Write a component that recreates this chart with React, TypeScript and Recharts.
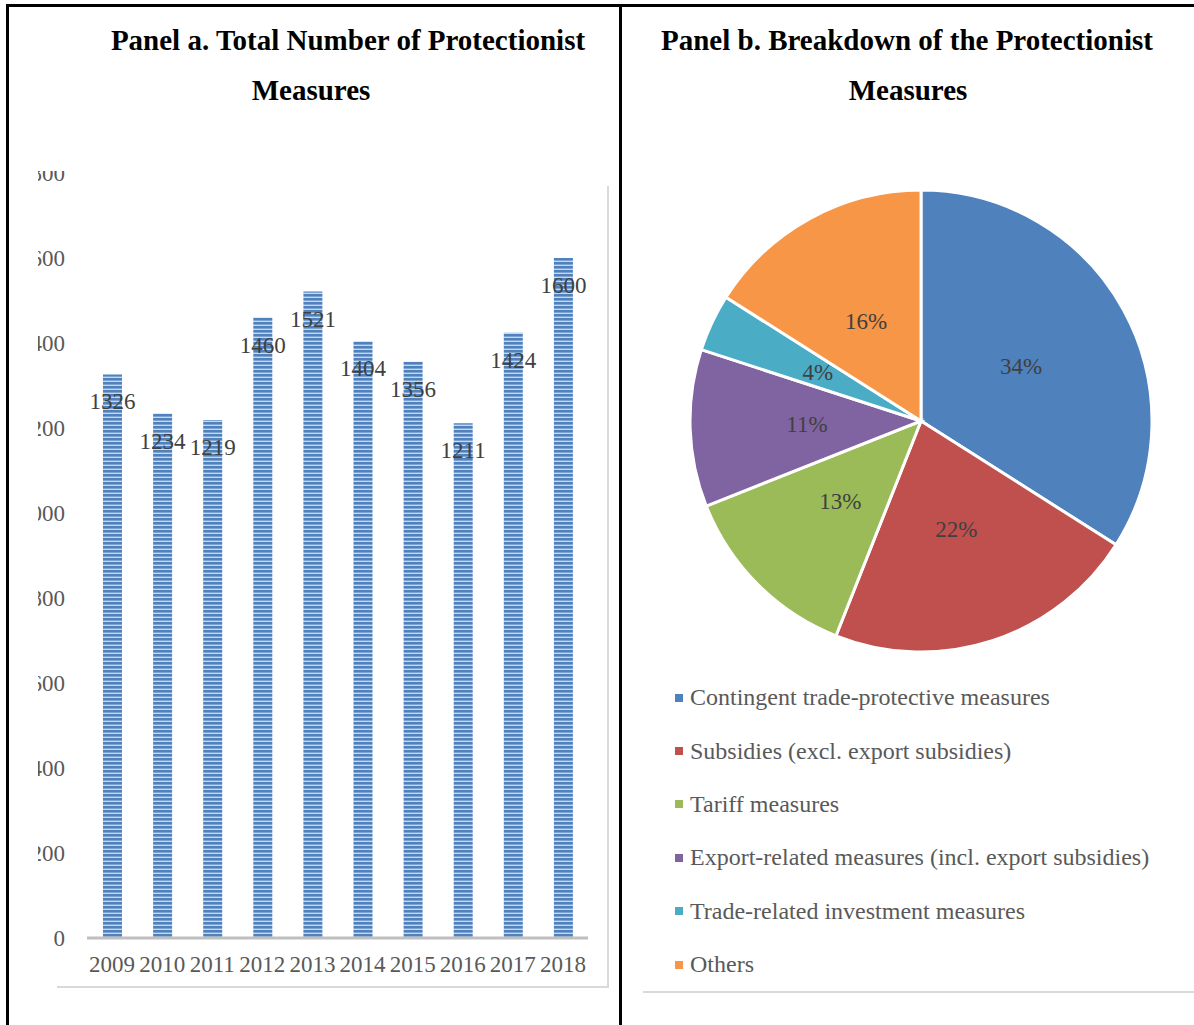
import React from 'react';
import { BarChart, Bar, XAxis, YAxis, LabelList, PieChart, Pie, Cell, Legend } from 'recharts';

const FONT = '"Liberation Serif", "Times New Roman", Times, serif';

// Panel a data
const years = ['2009', '2010', '2011', '2012', '2013', '2014', '2015', '2016', '2017', '2018'];
const totals = [1326, 1234, 1219, 1460, 1521, 1404, 1356, 1211, 1424, 1600];
const yTicks = [0, 200, 400, 600, 800, 1000, 1200, 1400, 1600, 1800];

// Panel b data
const categories = [
  'Contingent trade-protective measures',
  'Subsidies (excl. export subsidies)',
  'Tariff measures',
  'Export-related measures (incl. export subsidies)',
  'Trade-related investment measures',
  'Others',
];
const shares = [34, 22, 13, 11, 4, 16];
const sliceColors = ['#4F81BD', '#C0504D', '#9BBB59', '#8064A2', '#4BACC6', '#F79646'];

const barData = years.map((y, i) => ({ year: y, total: totals[i] }));
const pieData = categories.map((c, i) => ({ name: c, value: shares[i] }));

const RAD = Math.PI / 180;

const BarValueLabel = (props: any) => {
  const { x, y, width, value } = props;
  return (
    <text
      x={Number(x) + Number(width) / 2}
      y={Number(y) + 35}
      textAnchor="middle"
      fontFamily={FONT}
      fontSize={23}
      fill="#404040"
    >
      {value}
    </text>
  );
};

const PieLabel = (props: any) => {
  const { cx, cy, midAngle, outerRadius, value } = props;
  const r = outerRadius * 0.494;
  const x = cx + r * Math.cos(-midAngle * RAD);
  const y = cy + r * Math.sin(-midAngle * RAD);
  return (
    <text
      x={x}
      y={y}
      textAnchor="middle"
      dominantBaseline="central"
      fontFamily={FONT}
      fontSize={23}
      fill="#404040"
    >
      {`${value}%`}
    </text>
  );
};

const LegendContent = () => (
  <div style={{ fontFamily: FONT }}>
    {categories.map((c, i) => (
      <div key={c} style={{ height: 53.4, display: 'flex', alignItems: 'center' }}>
        <span style={{ display: 'inline-block', width: 8, height: 8, background: sliceColors[i], marginRight: 7 }} />
        <span style={{ fontSize: 24, color: '#595959', whiteSpace: 'nowrap' }}>{c}</span>
      </div>
    ))}
  </div>
);

const abs = (s: React.CSSProperties): React.CSSProperties => ({ position: 'absolute', ...s });

const Title = ({ text, cx, cy }: { text: string; cx: number; cy: number }) => (
  <div
    style={abs({
      left: cx - 300,
      top: cy - 17,
      width: 600,
      height: 34,
      lineHeight: '34px',
      textAlign: 'center',
      fontFamily: FONT,
      fontWeight: 'bold',
      fontSize: 29,
      color: '#000',
      whiteSpace: 'nowrap',
    })}
  >
    {text}
  </div>
);

export default function App() {
  return (
    <div style={abs({ left: 0, top: 0, width: 1194, height: 1025, overflow: 'hidden', background: '#fff' })}>
      {/* frame lines */}
      <div style={abs({ left: 6, top: 4, width: 1188, height: 3, background: '#000' })} />
      <div style={abs({ left: 6, top: 4, width: 3, height: 1021, background: '#000' })} />
      <div style={abs({ left: 619, top: 4, width: 3, height: 1021, background: '#000' })} />

      {/* titles */}
      <Title text="Panel a. Total Number of Protectionist" cx={348} cy={40} />
      <Title text="Measures" cx={311} cy={90} />
      <Title text="Panel b. Breakdown of the Protectionist" cx={907} cy={40} />
      <Title text="Measures" cx={908} cy={90} />

      {/* panel a chart area border */}
      <div style={abs({ left: 607, top: 186, width: 2, height: 802, background: '#D9D9D9' })} />
      <div style={abs({ left: 57, top: 986, width: 552, height: 2, background: '#D9D9D9' })} />

      {/* panel a chart (clipped on the left like the source) */}
      <div style={abs({ left: 38, top: 171, width: 581, height: 854, overflow: 'hidden' })}>
        <div style={abs({ left: -38, top: -21 })}>
          <BarChart
            width={620}
            height={870}
            data={barData}
            margin={{ top: 23, right: 32, bottom: 32, left: 57 }}
          >
            <defs>
              <pattern id="stripes" width="4" height="4" patternUnits="userSpaceOnUse">
                <rect x="0" y="0" width="4" height="4" fill="#C9D8EE" />
                <rect x="0" y="0" width="4" height="2.6" fill="#4F81BD" />
              </pattern>
            </defs>
            <XAxis
              dataKey="year"
              axisLine={{ stroke: '#BFBFBF', strokeWidth: 3 }}
              tickLine={false}
              tickMargin={12}
              height={50}
              interval={0}
              tick={{ fontSize: 23, fill: '#595959', fontFamily: FONT }}
            />
            <YAxis
              domain={[0, 1800]}
              ticks={yTicks}
              axisLine={false}
              tickLine={false}
              tickMargin={16}
              width={30}
              interval={0}
              tick={{ fontSize: 23, fill: '#595959', fontFamily: FONT }}
            />
            <Bar dataKey="total" fill="url(#stripes)" barSize={19} isAnimationActive={false}>
              <LabelList dataKey="total" content={BarValueLabel} />
            </Bar>
          </BarChart>
        </div>
      </div>

      {/* panel b */}
      <div style={abs({ left: 643, top: 991, width: 551, height: 2, background: '#D9D9D9' })} />
      <div style={abs({ left: 620, top: 0 })}>
        <PieChart width={574} height={1025} margin={{ top: 0, right: 0, bottom: 0, left: 0 }}>
          <Pie
            data={pieData}
            dataKey="value"
            nameKey="name"
            cx={301}
            cy={421}
            outerRadius={231}
            startAngle={90}
            endAngle={-270}
            stroke="#FFFFFF"
            strokeWidth={3}
            label={PieLabel}
            labelLine={false}
            isAnimationActive={false}
          >
            {pieData.map((d, i) => (
              <Cell key={d.name} fill={sliceColors[i]} />
            ))}
          </Pie>
          <Legend
            layout="horizontal"
            verticalAlign="bottom"
            align="left"
            content={LegendContent}
            wrapperStyle={{ position: 'absolute', left: 55, top: 671, bottom: 'auto', width: 519 }}
          />
        </PieChart>
      </div>
    </div>
  );
}
